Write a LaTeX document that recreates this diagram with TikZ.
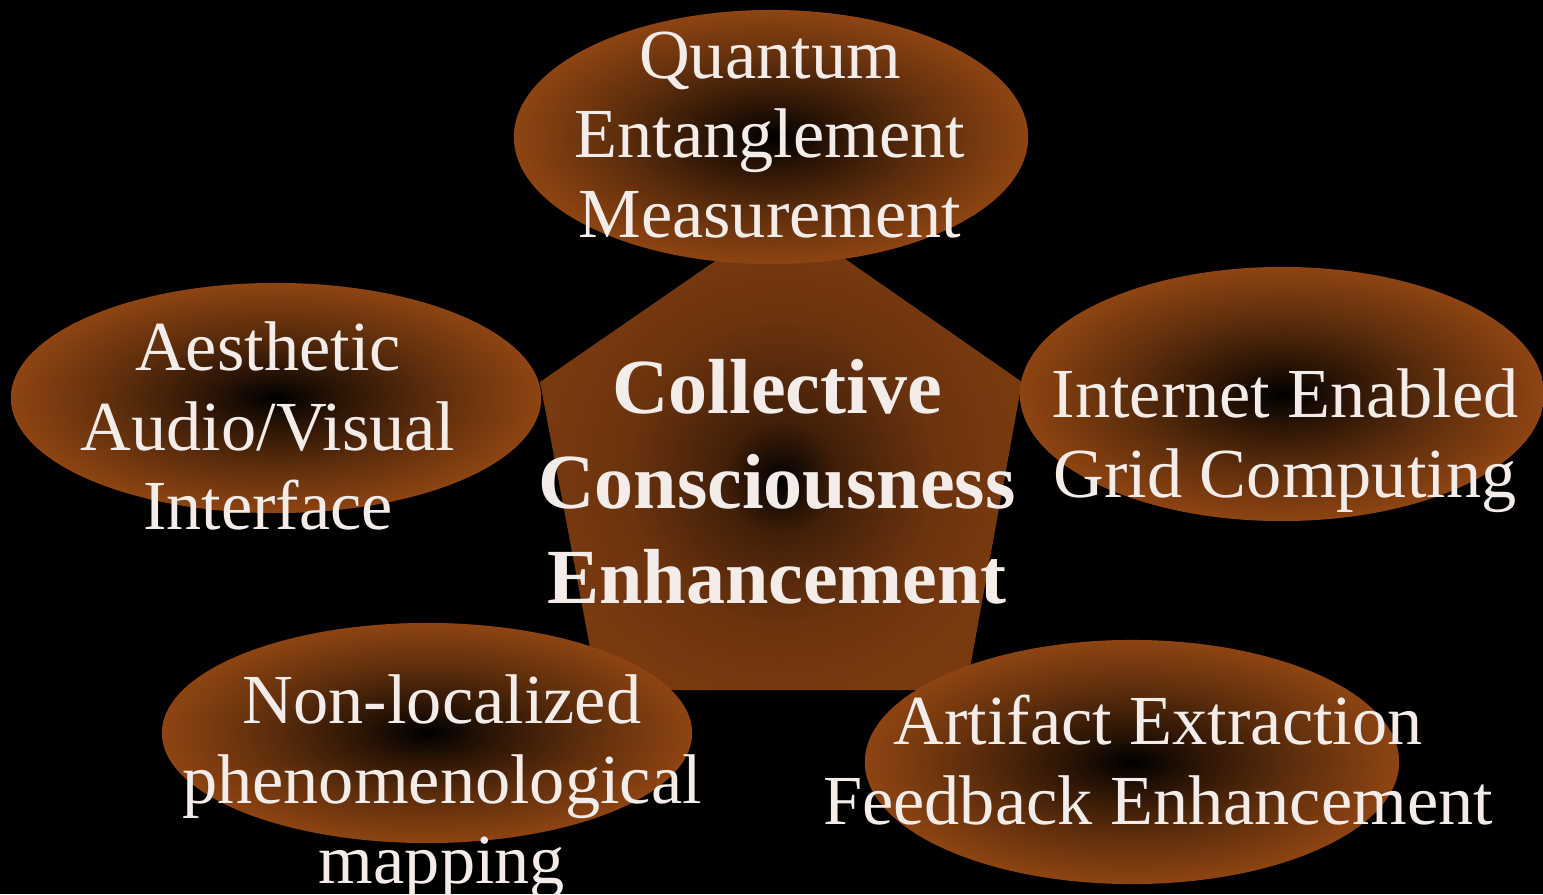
\documentclass[tikz,border=0pt]{standalone}
\usepackage{fontspec}
\setmainfont{Liberation Serif}
\usetikzlibrary{shapes.geometric}
\definecolor{rimbrown}{HTML}{8E4412}
\definecolor{midbrown}{HTML}{5E2E0C}
\definecolor{corebrown}{HTML}{2A1405}
\definecolor{pentbrown}{HTML}{7A3A10}
\definecolor{labelwhite}{HTML}{F3ECE8}
% dark core, brown body, brighter rim
\pgfdeclareradialshading{ovalglow}{\pgfpoint{0bp}{0bp}}{color(0bp)=(black); color(6bp)=(corebrown); color(15bp)=(midbrown); color(25bp)=(rimbrown); color(50bp)=(rimbrown)}
\pgfdeclareradialshading{pentglow}{\pgfpoint{0bp}{-3bp}}{color(0bp)=(black); color(6bp)=(corebrown!70!pentbrown); color(16bp)=(pentbrown!88!black); color(25bp)=(pentbrown); color(50bp)=(pentbrown)}
\begin{document}
\begin{tikzpicture}[x=0.01cm, y=-0.01cm,
  oval/.style={ellipse, inner sep=0pt, shading=ovalglow},
  ovaltext/.style={text=labelwhite, align=center, font=\fontsize{20}{22.7}\selectfont},
  hubtext/.style={text=labelwhite, align=center, font=\fontsize{22.2}{27}\selectfont\bfseries}]
  \useasboundingbox (0,0) rectangle (1543,894);
  \fill[black] (0,0) rectangle (1543,894);
  % center pentagon
  \coordinate (PT) at (782,215);
  \coordinate (PL) at (540,382);
  \coordinate (PR) at (1022,382);
  \coordinate (PBL) at (598,690);
  \coordinate (PBR) at (966,690);
  \shade[shading=pentglow] (PT) -- (PR) -- (PBR) -- (PBL) -- (PL) -- cycle;
  % five ovals
  \node[oval, minimum width=5.14cm, minimum height=2.54cm] (quantum) at (771,137) {};
  \node[oval, minimum width=5.30cm, minimum height=2.30cm] (aesthetic) at (276,398) {};
  \node[oval, minimum width=5.24cm, minimum height=2.54cm] (internet) at (1282,394) {};
  \node[oval, minimum width=5.30cm, minimum height=2.20cm] (nonlocal) at (427,733) {};
  \node[oval, minimum width=5.34cm, minimum height=2.44cm] (artifact) at (1132,762) {};
  % labels
  \node[ovaltext] (quantumlabel) at (770,135) {Quantum\\Entanglement\\Measurement};
  \node[ovaltext] (aestheticlabel) at (268,426) {Aesthetic\\Audio/Visual\\Interface};
  \node[ovaltext] (internetlabel) at (1285,441) {Internet Enabled\\Grid Computing};
  \node[ovaltext] (nonlocallabel) at (442,787) {Non-localized\\phenomenological\\mapping};
  \node[ovaltext] (artifactlabel) at (1158,760) {Artifact Extraction\\Feedback Enhancement};
  \node[hubtext] (hublabel) at (777,482) {Collective\\Consciousness\\Enhancement};
\end{tikzpicture}
\end{document}
